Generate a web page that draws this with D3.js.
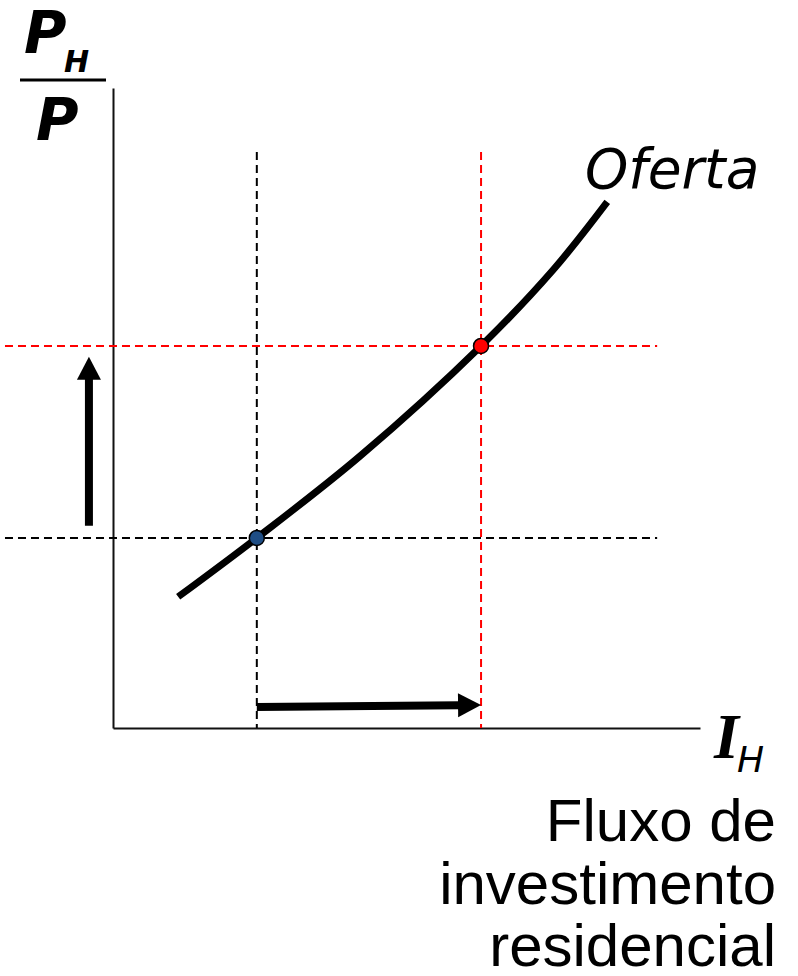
<!DOCTYPE html>
<html>
<head>
<meta charset="utf-8">
<script src="https://cdn.jsdelivr.net/npm/d3@7"></script>
<style>
  html, body { margin: 0; padding: 0; background: #fff; }
  svg { display: block; }
</style>
</head>
<body>
<script>
// ---- data (model units) ----
const supplyX = [1.11, 2.45, 4.21, 6.27, 7.50, 8.42];
const supplyY = [2.05, 2.97, 4.25, 5.97, 7.16, 8.22];
const eqX = [2.45, 6.27];          // initial, new equilibrium investment
const eqY = [2.97, 5.97];          // initial, new relative price
const eqColors = ["#1f4e85", "#ff0000"];
const guideColors = ["#000000", "#ff0000"];
const guideXExtent = [-1.84, 9.27];
const guideYTop = 9.0;
const upArrowX = -0.41, upArrowY = [3.16, 5.80];
const rightArrowY = [0.33, 0.36], rightArrowX = [2.45, 6.27];
const curveLabel = "Oferta";
const xLabelLines = ["Fluxo de", "investimento", "residencial"];

const W = 798, H = 976;
const svg = d3.select("body").append("svg").attr("width", W).attr("height", H);

const x = d3.scaleLinear().domain([0, 10]).range([113, 700]);
const y = d3.scaleLinear().domain([0, 10]).range([728, 88]);

// axes (no ticks)
const gx = svg.append("g").attr("transform", `translate(0,${y(0)})`)
  .call(d3.axisBottom(x).ticks(0).tickSizeOuter(0));
const gy = svg.append("g").attr("transform", `translate(${x(0)},0)`)
  .call(d3.axisLeft(y).ticks(0).tickSizeOuter(0));
[gx, gy].forEach(g => g.select(".domain").attr("stroke", "#111").attr("stroke-width", 2));

// dashed guides
eqX.forEach((ex, i) => {
  svg.append("line")
    .attr("x1", x(guideXExtent[0])).attr("x2", x(guideXExtent[1]))
    .attr("y1", y(eqY[i])).attr("y2", y(eqY[i]))
    .attr("stroke", guideColors[i]).attr("stroke-width", 2).attr("stroke-dasharray", "8,5");
  svg.append("line")
    .attr("x1", x(ex)).attr("x2", x(ex))
    .attr("y1", y(guideYTop)).attr("y2", y(0))
    .attr("stroke", guideColors[i]).attr("stroke-width", 2).attr("stroke-dasharray", "8,5");
});

// supply curve
const pts = supplyX.map((v, i) => [v, supplyY[i]]);
svg.append("path")
  .attr("d", d3.line().x(d => x(d[0])).y(d => y(d[1])).curve(d3.curveCatmullRom)(pts))
  .attr("fill", "none").attr("stroke", "#000").attr("stroke-width", 7).attr("stroke-linecap", "butt");

// equilibrium points
svg.selectAll("circle.eq").data(eqX).join("circle")
  .attr("class", "eq")
  .attr("cx", d => x(d)).attr("cy", (d, i) => y(eqY[i]))
  .attr("r", 7.5).attr("fill", (d, i) => eqColors[i])
  .attr("stroke", "#000").attr("stroke-width", 1.5);

// arrows
function arrow(x0, y0, x1, y1) {
  const dx = x1 - x0, dy = y1 - y0, L = Math.hypot(dx, dy);
  const ux = dx / L, uy = dy / L, nx = -uy, ny = ux;
  const hl = 23, hw = 12;
  const bx = x1 - ux * hl, by = y1 - uy * hl;
  svg.append("line").attr("x1", x0).attr("y1", y0).attr("x2", bx + ux).attr("y2", by + uy)
    .attr("stroke", "#000").attr("stroke-width", 8);
  svg.append("path")
    .attr("d", `M${x1},${y1}L${bx + nx * hw},${by + ny * hw}L${bx - nx * hw},${by - ny * hw}Z`)
    .attr("fill", "#000");
}
arrow(x(upArrowX), y(upArrowY[0]), x(upArrowX), y(upArrowY[1]));
arrow(x(rightArrowX[0]), y(rightArrowY[0]), x(rightArrowX[1]), y(rightArrowY[1]));

// curve label
svg.append("text").attr("x", 585).attr("y", 188)
  .attr("font-family", "DejaVu Sans, Verdana, sans-serif").attr("font-style", "italic")
  .attr("font-size", 55).text(curveLabel);

// y label: P_H / P
const yl = svg.append("g").attr("font-family", "DejaVu Sans, Verdana, sans-serif")
  .attr("font-weight", "bold").attr("font-style", "italic");
yl.append("text").attr("x", 24).attr("y", 53).attr("font-size", 58).text("P");
yl.append("text").attr("x", 64).attr("y", 72).attr("font-size", 30).text("H");
yl.append("line").attr("x1", 20).attr("x2", 106).attr("y1", 80).attr("y2", 80)
  .attr("stroke", "#000").attr("stroke-width", 3);
yl.append("text").attr("x", 36).attr("y", 140).attr("font-size", 58).text("P");

// x label: I_H
svg.append("text").attr("x", 714).attr("y", 758)
  .attr("font-family", "Liberation Serif, Times New Roman, serif")
  .attr("font-weight", "bold").attr("font-style", "italic").attr("font-size", 64).text("I");
svg.append("text").attr("x", 737).attr("y", 772)
  .attr("font-family", "DejaVu Sans, Verdana, sans-serif")
  .attr("font-style", "italic").attr("font-size", 36).text("H");

// axis description
svg.append("g").selectAll("text").data(xLabelLines).join("text")
  .attr("x", 776).attr("y", (d, i) => 841 + i * 62.5)
  .attr("text-anchor", "end")
  .attr("font-family", "Liberation Sans, Arial, sans-serif")
  .attr("font-size", 60).attr("fill", "#000").text(d => d);
</script>
</body>
</html>
